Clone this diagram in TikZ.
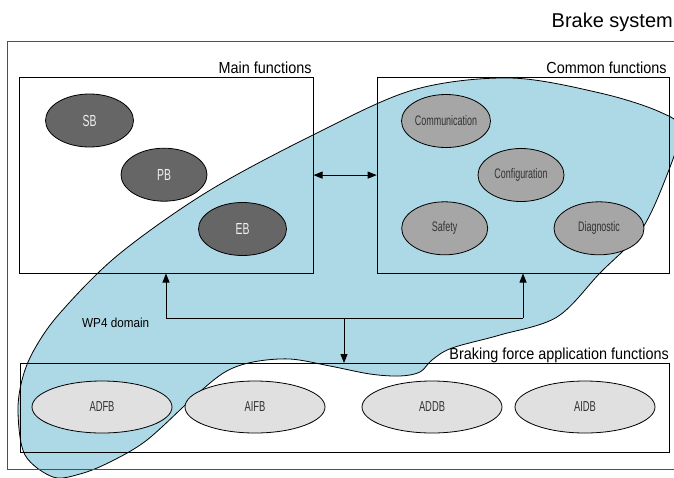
\documentclass[tikz,border=0pt]{standalone}
\usepackage{fontspec}
\setmainfont{Liberation Sans}
\newfontfamily\labelfont[FakeStretch=0.9]{Liberation Sans}
\newfontfamily\bubblefont[FakeStretch=0.65]{Liberation Sans}
\usetikzlibrary{arrows.meta,shapes.geometric}
\definecolor{domainblue}{HTML}{ADD8E6}
\definecolor{darkfn}{HTML}{666666}
\definecolor{midfn}{HTML}{A6A6A6}
\definecolor{lightfn}{HTML}{E0E0E0}
\definecolor{framegray}{HTML}{505050}
\definecolor{fntext}{HTML}{333333}

\begin{document}
\begin{tikzpicture}[x=1pt,y=-1pt,
  groupbox/.style={draw=black, line width=0.8pt, inner sep=0pt, anchor=north west},
  bubble/.style={ellipse, draw=black, line width=0.8pt, inner sep=0pt},
  mainfn/.style={bubble, fill=darkfn, text=white!94!black,
    minimum width=88pt, minimum height=53pt,
    font=\bubblefont\fontsize{16}{18}\selectfont},
  commonfn/.style={bubble, fill=midfn, text=fntext,
    minimum width=88pt, minimum height=53pt,
    font=\bubblefont\fontsize{13.8}{15}\selectfont},
  forcefn/.style={bubble, fill=lightfn, text=fntext,
    minimum width=140pt, minimum height=52pt,
    font=\bubblefont\fontsize{14.4}{16}\selectfont},
  grouplabel/.style={anchor=base east, inner sep=0pt,
    font=\labelfont\fontsize{16}{18}\selectfont},
  tip/.style={-{Triangle[length=9pt,width=7pt]}, line width=0.8pt},
  bothtips/.style={{Triangle[length=9pt,width=7pt]}-{Triangle[length=9pt,width=7pt]}, line width=0.8pt},
]
\useasboundingbox (0,0) rectangle (674,477);

\begin{scope}
  \clip (0,0) rectangle (674,477);
  % WP4 domain region
  \draw[fill=domainblue, line width=0.8pt]
    plot[smooth cycle, tension=0.55] coordinates {
      (53,477) (25,455) (18,413) (22,380) (34,350) (60,313) (118,255)
      (207,192) (313,135) (413,90) (510,78) (600,93) (660,112) (680,130)
      (665,180) (640,232) (600,273) (557,317) (500,335) (452,348)
      (432,360) (420,372) (400,376) (370,374) (330,366) (290,359)
      (253,362) (225,372) (195,396) (147,440) (110,462) (80,474)};
  % system frame
  \node[draw=framegray, line width=1.3pt, inner sep=0pt, anchor=north west,
        minimum width=683pt, minimum height=428.3pt] (system) at (7,40.7) {};
\end{scope}

\node[anchor=base east, inner sep=0pt, font=\fontsize{20}{22}\selectfont]
  (systemlabel) at (673,27.3) {Brake system};

% function groups
\node[groupbox, minimum width=293.4pt, minimum height=196pt] (main) at (19.3,76.7) {};
\node[groupbox, minimum width=292pt, minimum height=196pt] (common) at (376.7,76.7) {};
\node[groupbox, minimum width=649pt, minimum height=89pt] (force) at (20,363) {};

\node[grouplabel] (mainlabel) at (311.7,73.8) {Main functions};
\node[grouplabel] (commonlabel) at (666.7,73.8) {Common functions};
\node[grouplabel] (forcelabel) at (669,359) {Braking force application functions};
\node[anchor=base west, inner sep=0pt, font=\labelfont\fontsize{13}{15}\selectfont]
  (domainlabel) at (82,327) {WP4 domain};

% main functions
\node[mainfn] (sb) at (89.5,120.5) {SB};
\node[mainfn, minimum width=86pt] (pb) at (164,174.7) {PB};
\node[mainfn] (eb) at (242.5,229) {EB};

% common functions
\node[commonfn, minimum width=89pt] (comm) at (446,121) {Communication};
\node[commonfn, minimum width=86pt] (conf) at (521,175) {Configuration};
\node[commonfn, minimum width=86pt] (safe) at (444.7,228.3) {Safety};
\node[commonfn, minimum width=90pt] (diag) at (599,228.3) {Diagnostic};

% braking force application functions
\node[forcefn] (adfb) at (102,407) {ADFB};
\node[forcefn] (aifb) at (255,407) {AIFB};
\node[forcefn] (addb) at (432,407) {ADDB};
\node[forcefn] (aidb) at (585,407) {AIDB};

% interfaces
\draw[bothtips] (main.east) -- (common.west);
\coordinate (jl) at (166,318);
\coordinate (jr) at (523,318);
\coordinate (jm) at (344,318);
\draw[line width=0.8pt] (jl) -- (jr);
\draw[tip] (jl) -- (jl |- main.south);
\draw[tip] (jr) -- (jr |- common.south);
\draw[tip] (jm) -- (jm |- force.north);
\end{tikzpicture}
\end{document}
